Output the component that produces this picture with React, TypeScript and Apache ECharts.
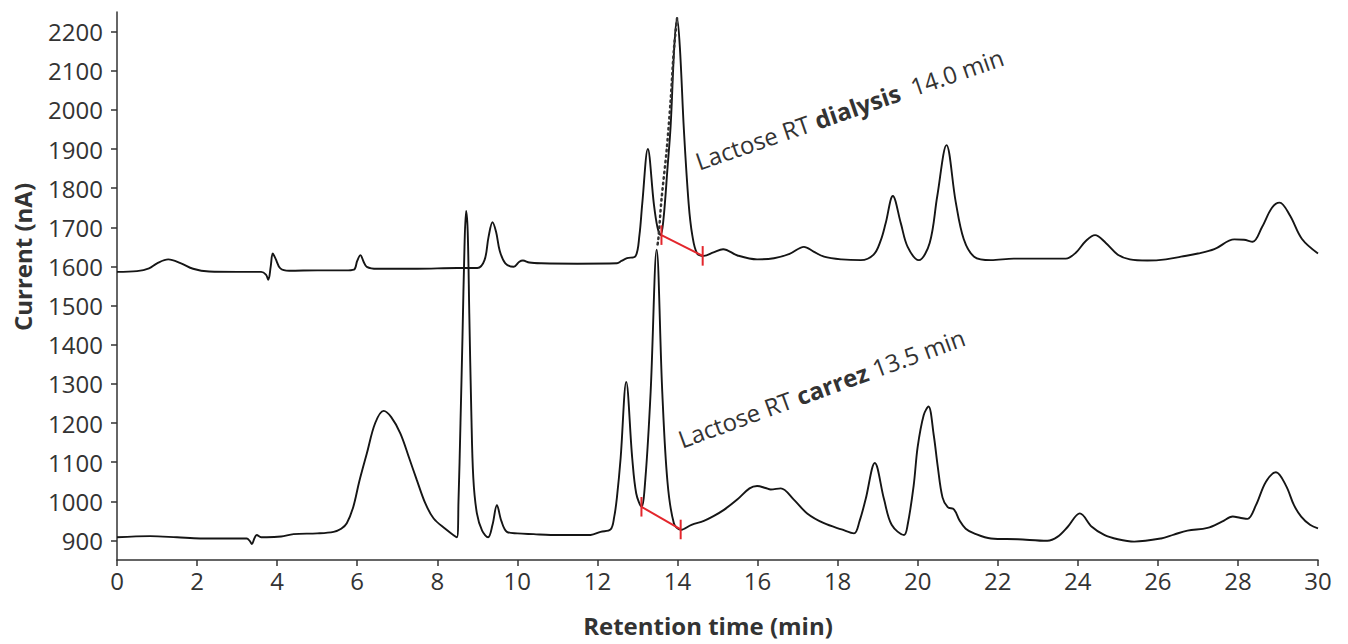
import React, { useEffect, useRef } from "react";
import * as echarts from "echarts";

// Retention time (min) / Current (nA) pairs
const dialysisTrace: [number, number][] = [
  [0, 1586], [0.5, 1588], [0.8, 1595], [1.0, 1608], [1.28, 1618], [1.6, 1608], [1.9, 1594], [2.3, 1587],
  [3.0, 1586], [3.6, 1586], [3.72, 1579], [3.78, 1566], [3.84, 1600], [3.89, 1633], [3.96, 1620], [4.08, 1595],
  [4.3, 1589], [5.0, 1590], [5.7, 1590], [5.92, 1592], [6.0, 1614], [6.08, 1629], [6.16, 1612], [6.24, 1599],
  [6.5, 1594], [7.5, 1594], [8.5, 1596], [9.0, 1596], [9.18, 1616], [9.28, 1675], [9.38, 1713], [9.47, 1688],
  [9.56, 1640], [9.7, 1608], [9.91, 1599], [10.05, 1612], [10.14, 1615], [10.3, 1610], [10.6, 1608],
  [11.5, 1607], [12.49, 1608], [12.6, 1614], [12.74, 1621], [12.95, 1626], [13.05, 1680], [13.12, 1760],
  [13.26, 1900], [13.41, 1760], [13.5, 1700], [13.58, 1680], [13.65, 1720], [13.75, 1850], [13.83, 1960],
  [13.92, 2160], [13.99, 2234], [14.06, 2160], [14.16, 1950], [14.28, 1760], [14.37, 1680], [14.49, 1633],
  [14.66, 1627], [14.9, 1636], [15.14, 1644], [15.5, 1628], [15.99, 1618], [16.41, 1621], [16.8, 1632],
  [17.16, 1650], [17.4, 1638], [17.66, 1625], [18.1, 1618], [18.58, 1616], [18.9, 1630], [19.08, 1667],
  [19.2, 1710], [19.38, 1780], [19.58, 1710], [19.75, 1650], [20.03, 1616], [20.3, 1660], [20.49, 1780],
  [20.72, 1910], [20.95, 1765], [21.15, 1670], [21.41, 1625], [21.83, 1616], [22.4, 1620], [23.0, 1620],
  [23.7, 1620], [23.95, 1635], [24.2, 1665], [24.43, 1680], [24.7, 1660], [25.0, 1630], [25.3, 1618],
  [25.74, 1615], [26.2, 1618], [26.58, 1625], [27.0, 1633], [27.41, 1644], [27.91, 1669], [28.15, 1668],
  [28.37, 1663], [28.6, 1700], [28.85, 1750], [29.04, 1763], [29.3, 1730], [29.6, 1670], [30.0, 1633],
];

const carrezTrace: [number, number][] = [
  [0, 908], [0.83, 911], [1.5, 908], [2.08, 905], [2.8, 905], [3.24, 905], [3.32, 898], [3.37, 891],
  [3.43, 905], [3.49, 914], [3.6, 908], [3.74, 908], [4.1, 910], [4.41, 916], [5.0, 918], [5.41, 922],
  [5.6, 930], [5.74, 944], [5.9, 985], [6.05, 1050], [6.24, 1122], [6.45, 1200], [6.66, 1231], [6.85, 1215],
  [7.08, 1173], [7.3, 1110], [7.49, 1054], [7.7, 995], [7.91, 956], [8.2, 930], [8.49, 908], [8.53, 1000],
  [8.58, 1200], [8.63, 1420], [8.68, 1650], [8.72, 1742], [8.76, 1690], [8.8, 1480], [8.85, 1230],
  [8.9, 1060], [8.99, 969], [9.12, 925], [9.27, 908], [9.38, 940], [9.49, 990], [9.6, 950], [9.74, 922],
  [10.0, 918], [10.41, 916], [10.83, 914], [11.83, 914], [12.08, 922], [12.33, 928], [12.42, 960],
  [12.49, 1012], [12.58, 1110], [12.72, 1305], [12.87, 1110], [12.97, 1020], [13.1, 986], [13.2, 1060],
  [13.33, 1280], [13.48, 1643], [13.62, 1280], [13.75, 1050], [13.91, 944], [14.08, 927], [14.35, 940],
  [14.66, 950], [14.9, 962], [15.16, 978], [15.5, 1005], [15.8, 1033], [15.99, 1039], [16.2, 1034],
  [16.33, 1030], [16.58, 1033], [16.9, 1005], [17.24, 969], [17.66, 944], [18.1, 928], [18.41, 918],
  [18.55, 950], [18.7, 1005], [18.93, 1098], [19.16, 1005], [19.35, 940], [19.66, 914], [19.75, 940],
  [19.9, 1040], [20.0, 1139], [20.15, 1220], [20.27, 1242], [20.4, 1170], [20.5, 1090], [20.62, 1010],
  [20.75, 985], [20.91, 979], [21.05, 950], [21.2, 930], [21.41, 918], [21.83, 905], [22.5, 903],
  [23.24, 899], [23.49, 909], [23.75, 935], [24.05, 969], [24.35, 935], [24.66, 914], [25.0, 903],
  [25.41, 897], [26.08, 905], [26.4, 915], [26.74, 925], [27.24, 932], [27.6, 948], [27.87, 961],
  [28.05, 958], [28.24, 955], [28.45, 990], [28.7, 1050], [28.95, 1074], [29.2, 1040], [29.4, 990],
  [29.58, 961], [29.8, 940], [30.0, 931],
];

// dotted overlay on the dialysis lactose peak
const dialysisDotted: [number, number][] = [
  [13.99, 2234], [13.91, 2153], [13.83, 2025], [13.73, 1897], [13.6, 1770], [13.52, 1667], [13.49, 1650],
];

// red integration baselines (start, end) and tick half-length
const dialysisBaseline: [number, number][] = [[13.6, 1680], [14.63, 1627]];
const carrezBaseline: [number, number][] = [[13.1, 986], [14.08, 928]];
const baselineTick = 25;

const xTicks = [0, 2, 4, 6, 8, 10, 12, 14, 16, 18, 20, 22, 24, 26, 28, 30];
const yTicks = [900, 1000, 1100, 1200, 1300, 1400, 1500, 1600, 1700, 1800, 1900, 2000, 2100, 2200];

const FONT = "'Open Sans', 'Noto Sans', sans-serif";
const AXIS_COLOR = "#333333";
const RED = "#e3262c";

function redSeries(seg: [number, number][]) {
  const base = {
    type: "line" as const,
    symbol: "none",
    silent: true,
    lineStyle: { color: RED, width: 2 },
    z: 5,
  };
  const [a, b] = seg;
  return [
    { ...base, data: [a, b] },
    { ...base, data: [[a[0], a[1] - baselineTick], [a[0], a[1] + baselineTick]] },
    { ...base, data: [[b[0], b[1] - baselineTick], [b[0], b[1] + baselineTick]] },
  ];
}

export default function App() {
  const ref = useRef<HTMLDivElement>(null);
  useEffect(() => {
    if (!ref.current) return;
    const chart = echarts.init(ref.current, null, { renderer: "svg" });
    const traceStyle = { color: "#151515", width: 1.9 };
    const annoRich = {
      a: { fontFamily: FONT, fontSize: 24, fill: AXIS_COLOR },
      b: { fontFamily: FONT, fontSize: 24, fontWeight: "bold", fill: AXIS_COLOR },
    };
    chart.setOption({
      animation: false,
      backgroundColor: "#ffffff",
      grid: { left: 117, right: 30, top: 12, bottom: 84, containLabel: false },
      xAxis: {
        type: "value",
        min: 0,
        max: 30,
        interval: 2,
        axisLine: { show: true, lineStyle: { color: AXIS_COLOR, width: 1.5 } },
        axisTick: { show: true, length: 6, lineStyle: { color: AXIS_COLOR, width: 1.5 } },
        axisLabel: {
          color: AXIS_COLOR,
          fontFamily: FONT,
          fontSize: 24,
          margin: 8,
          customValues: xTicks,
          formatter: (v: number) => String(v),
        },
        splitLine: { show: false },
      },
      yAxis: {
        type: "value",
        min: 850,
        max: 2250,
        interval: 50,
        axisLine: { show: true, lineStyle: { color: AXIS_COLOR, width: 1.5 } },
        axisTick: { show: true, length: 6, lineStyle: { color: AXIS_COLOR, width: 1.5 }, customValues: yTicks },
        axisLabel: {
          color: AXIS_COLOR,
          fontFamily: FONT,
          fontSize: 24,
          margin: 14,
          customValues: yTicks,
          formatter: (v: number) => String(v),
        },
        splitLine: { show: false },
      },
      series: [
        {
          type: "line",
          data: dialysisTrace,
          symbol: "none",
          smooth: 0.35,
          lineStyle: traceStyle,
          z: 3,
        },
        {
          type: "line",
          data: carrezTrace,
          symbol: "none",
          smooth: 0.35,
          lineStyle: traceStyle,
          z: 3,
        },
        {
          type: "line",
          data: dialysisDotted,
          symbol: "none",
          smooth: 0.3,
          lineStyle: { color: "#333", width: 2.5, type: [1.5, 4], cap: "round" },
          z: 4,
        },
        ...redSeries(dialysisBaseline),
        ...redSeries(carrezBaseline),
      ],
      graphic: [
        {
          type: "text",
          x: 22,
          y: 257,
          rotation: Math.PI / 2,
          style: {
            text: "Current (nA)",
            font: `bold 24px ${FONT}`,
            fill: AXIS_COLOR,
            align: "center",
            verticalAlign: "middle",
          },
        },
        {
          type: "text",
          x: 708,
          y: 625,
          style: {
            text: "Retention time (min)",
            font: `bold 24px ${FONT}`,
            fill: AXIS_COLOR,
            align: "center",
            verticalAlign: "middle",
          },
        },
        {
          type: "text",
          x: 700,
          y: 173,
          rotation: (19 * Math.PI) / 180,
          style: {
            text: "{a|Lactose RT }{b|dialysis}{a|  14.0 min}",
            align: "left",
            verticalAlign: "bottom",
            rich: annoRich,
          },
        },
        {
          type: "text",
          x: 683,
          y: 451,
          rotation: (20 * Math.PI) / 180,
          style: {
            text: "{a|Lactose RT }{b|carrez}{a| 13.5 min}",
            align: "left",
            verticalAlign: "bottom",
            rich: annoRich,
          },
        },
      ],
    });
    return () => chart.dispose();
  }, []);
  return (
    <div
      ref={ref}
      style={{ position: "fixed", left: 0, top: 0, width: 1348, height: 644, background: "#fff" }}
    />
  );
}
